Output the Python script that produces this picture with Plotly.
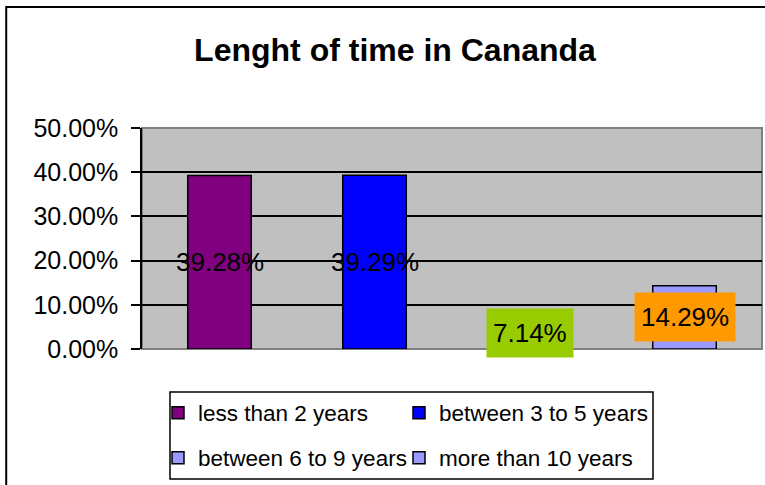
import plotly.graph_objects as go

categories = ["less than 2 years", "between 3 to 5 years",
              "between 6 to 9 years", "more than 10 years"]
shares = [0.3928, 0.3929, 0.0714, 0.1429]
label_text = ["39.28%", "39.29%", "7.14%", "14.29%"]

bar_colors = ["#800080", "#0000FF", "#9999FF", "#9999FF"]
label_bg = [None, None, "#99CC00", "#FF9900"]

FONT = "Liberation Sans, Arial, sans-serif"

# one legend per entry, laid out as a 2x2 grid (left px, centre y px)
legend_ids = ["legend", "legend2", "legend3", "legend4"]
legend_pos = [(158, 413), (399, 413), (158, 458), (399, 458)]

fig = go.Figure()
for cat, val, col, leg in zip(categories, shares, bar_colors, legend_ids):
    fig.add_bar(
        x=[cat], y=[val], name=cat, width=0.41,
        marker=dict(color=col, line=dict(color="black", width=1.5)),
        legend=leg,
        hovertemplate="%{x}: %{y:.2%}<extra></extra>",
    )

for cat, val, txt, bg in zip(categories, shares, label_text, label_bg):
    fig.add_annotation(
        x=cat, y=val / 2, text=txt, showarrow=False,
        yanchor="middle", xanchor="center",
        font=dict(family=FONT, size=26, color="black"),
        bgcolor=bg if bg else "rgba(0,0,0,0)",
        borderpad=6, height=36,
    )

# plot area frame
fig.add_shape(type="rect", xref="paper", yref="paper", x0=0, x1=1, y0=0, y1=1,
              line=dict(color="#808080", width=2), layer="below")
# outer chart frame
fig.add_shape(type="rect", xref="paper", yref="paper",
              x0=-0.219, x1=1.1, y0=-0.8, y1=1.548,
              line=dict(color="black", width=2), layer="below")
# legend box
fig.add_shape(type="rect", xref="paper", yref="paper",
              x0=(170 - 142) / 620, x1=(653 - 142) / 620,
              y0=(349 - 479) / 221, y1=(349 - 392) / 221,
              line=dict(color="black", width=1.5))

legends = {}
for leg, (lx, ly) in zip(legend_ids, legend_pos):
    legends[leg] = dict(
        orientation="h", xanchor="left", yanchor="middle",
        x=(lx - 142) / 620, y=(349 - ly) / 221,
        font=dict(family=FONT, size=22.5, color="black"),
        bgcolor="rgba(0,0,0,0)", borderwidth=0,
    )

fig.update_layout(
    width=765, height=485,
    margin=dict(l=142, r=3, t=128, b=136),
    paper_bgcolor="white",
    plot_bgcolor="#C0C0C0",
    barmode="overlay",
    showlegend=True,
    title=dict(
        text="<b>Lenght of time in Cananda</b>",
        font=dict(family=FONT, size=32, color="black"),
        x=395 / 765, xanchor="center", xref="container",
        y=1 - 50 / 485, yanchor="middle", yref="container",
    ),
    xaxis=dict(
        type="category", categoryorder="array", categoryarray=categories,
        range=[-0.5, 3.5], showticklabels=False, showgrid=False,
        ticks="", zeroline=False,
    ),
    yaxis=dict(
        range=[0, 0.5], dtick=0.1, tickformat=".2%",
        showgrid=True, gridcolor="black", gridwidth=1.5,
        zeroline=False,
        showline=True, linecolor="black", linewidth=1.5,
        ticks="outside", ticklen=9, tickwidth=1.5, tickcolor="black",
        ticklabelstandoff=8,
        tickfont=dict(family=FONT, size=25, color="black"),
    ),
    **legends,
)

fig.write_html("out.html", config={"displayModeBar": False},
               post_script="document.body.style.margin = '0';")
